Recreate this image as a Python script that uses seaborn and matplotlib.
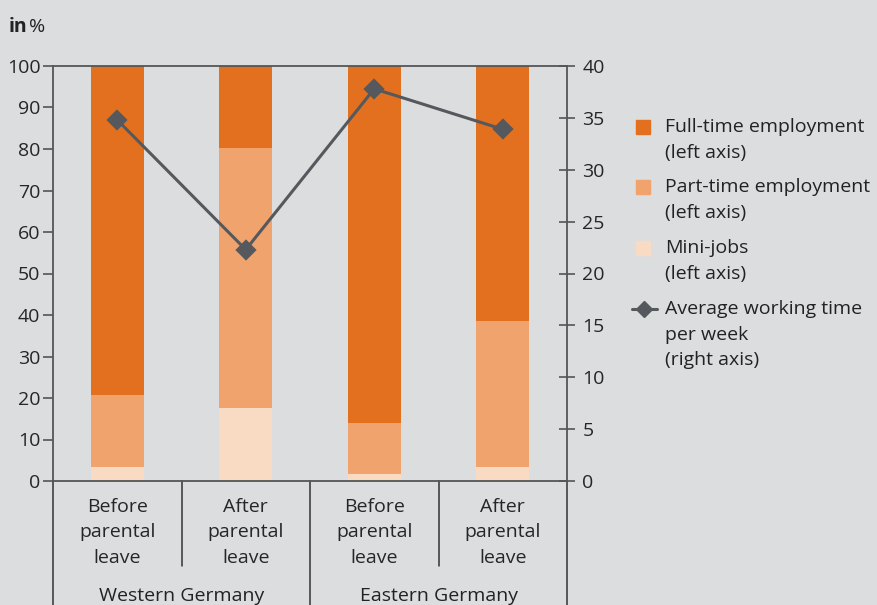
import matplotlib.pyplot as plt
import matplotlib.transforms as mtransforms
from matplotlib.lines import Line2D
import seaborn as sns
import numpy as np

# data
groups = ['Western Germany', 'Eastern Germany']
periods = ['Before\nparental\nleave', 'After\nparental\nleave',
           'Before\nparental\nleave', 'After\nparental\nleave']
keys = ['W before', 'W after', 'E before', 'E after']
mini_jobs = [3.4, 17.6, 1.7, 3.4]
part_time = [17.3, 62.6, 12.3, 35.2]
full_time = [79.3, 19.8, 86.0, 61.4]
avg_hours = [34.8, 22.3, 37.8, 33.9]

c_full = '#e3701e'
c_part = '#f0a36d'
c_mini = '#f9dbc4'
c_line = '#55595d'
c_axis = '#555555'
bg = '#dcdddf'
fs = 14

sns.set_style('white')
plt.rcParams['font.family'] = ['Open Sans', 'DejaVu Sans']
plt.rcParams['font.size'] = fs
plt.rcParams['text.color'] = '#222222'

fig = plt.figure(figsize=(8.77, 6.05), dpi=100, facecolor=bg)
ax = fig.add_axes([53 / 877, 1 - 481 / 605, (567 - 53) / 877, (481 - 66) / 605])
ax.set_facecolor(bg)

# stacked bars, drawn as cumulative totals
total_all = np.array(mini_jobs) + np.array(part_time) + np.array(full_time)
total_pm = np.array(mini_jobs) + np.array(part_time)
for vals, col in [(total_all, c_full), (total_pm, c_part), (mini_jobs, c_mini)]:
    sns.barplot(x=keys, y=vals, color=col, saturation=1, width=0.41,
                edgecolor='none', linewidth=0, ax=ax)

ax.set_xlim(-0.5, 3.5)
ax.set_ylim(0, 100)
ax.set_yticks(range(0, 101, 10))
ax.set_xticks(range(4))
ax.set_xticklabels(periods, linespacing=1.55)
ax.tick_params(axis='x', length=0, pad=12, labelsize=fs)
ax.tick_params(axis='y', direction='out', length=7, width=1.2, color=c_axis,
               labelsize=fs, pad=2)
ax.set_xlabel('')
ax.set_ylabel('')
for s in ax.spines.values():
    s.set_visible(True)
    s.set_color(c_axis)
    s.set_linewidth(1.3)

# average working time on right axis
ax2 = ax.twinx()
sns.pointplot(x=keys, y=avg_hours, color=c_line, markers='D', markersize=9,
              linewidth=2.2, ax=ax2)
ax2.set_xlim(-0.5, 3.5)
ax2.set_ylim(0, 40)
ax2.set_yticks(range(0, 41, 5))
ax2.set_ylabel('')
ax2.tick_params(axis='y', direction='inout', length=12, width=1.2, color=c_axis,
                labelsize=fs, pad=5)
for s in ax2.spines.values():
    s.set_visible(False)

# category separators below the axis
trans = mtransforms.blended_transform_factory(ax.transData, ax.transAxes)
for xpos, ybot in [(-0.5, -0.30), (0.5, -0.205), (1.5, -0.30), (2.5, -0.205), (3.5, -0.30)]:
    ax.add_line(Line2D([xpos, xpos], [0, ybot], transform=trans, color='#333333',
                       lw=1.1, clip_on=False))
for i, g in enumerate(groups):
    ax.text(0.5 + 2 * i, -0.277, g, transform=trans, ha='center', va='center',
            fontsize=fs)

# axis unit label
fig.text(9 / 877, 1 - 27 / 605, 'in', fontsize=fs, fontweight='bold', va='center')
fig.text(29 / 877, 1 - 27 / 605, '%', fontsize=fs, va='center')

# legend drawn by hand
legend_items = [
    ('Full-time employment\n(left axis)', c_full, 127),
    ('Part-time employment\n(left axis)', c_part, 187),
    ('Mini-jobs\n(left axis)', c_mini, 248),
]
for label, col, ypx in legend_items:
    fig.add_artist(Line2D([643 / 877], [1 - ypx / 605], marker='s', markersize=9.5,
                          color=col, linestyle='none'))
    fig.text(665 / 877, 1 - (ypx - 9) / 605, label, va='top', ha='left',
             fontsize=fs, linespacing=1.55)
fig.add_artist(Line2D([632 / 877, 657 / 877], [1 - 309 / 605, 1 - 309 / 605],
                      color=c_line, lw=2.2))
fig.add_artist(Line2D([644 / 877], [1 - 309 / 605], marker='D', markersize=8,
                      color=c_line, linestyle='none'))
fig.text(665 / 877, 1 - (309 - 9) / 605, 'Average working time\nper week\n(right axis)',
         va='top', ha='left', fontsize=fs, linespacing=1.55)

fig.savefig('out.png', dpi=100, facecolor=bg)
